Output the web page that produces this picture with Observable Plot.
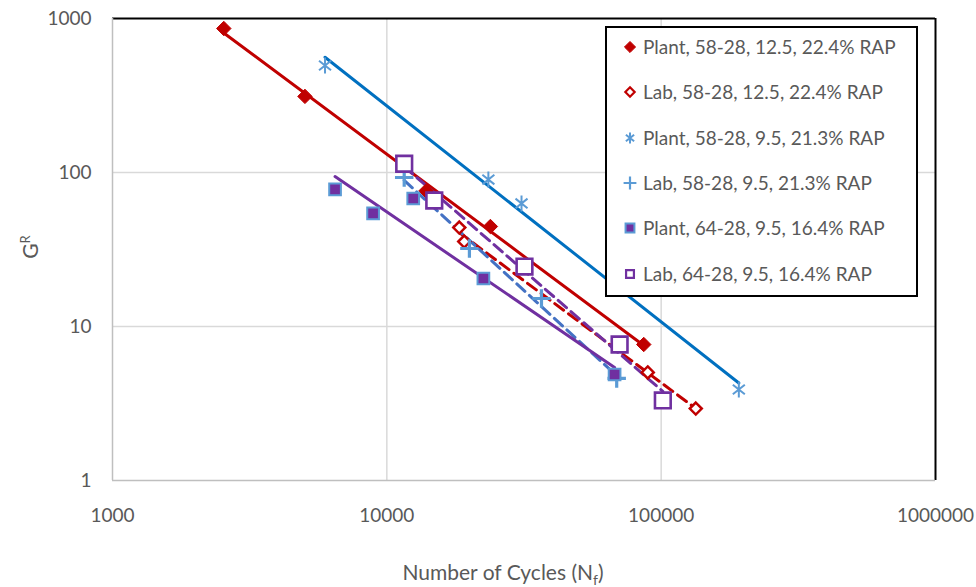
<!DOCTYPE html>
<html><head><meta charset="utf-8">
<script src="https://cdn.jsdelivr.net/npm/d3@7"></script>
<script src="https://cdn.jsdelivr.net/npm/@observablehq/plot@0.6"></script>
<style>
body{margin:0;background:#fff;}
#wrap{position:relative;width:976px;height:587px;overflow:hidden;}
#legend{position:absolute;left:605px;top:26px;width:309px;height:267px;border:2px solid #000;background:#fff;font-family:Lato, "Open Sans", sans-serif;font-size:19px;color:#595959;}
.row{position:absolute;left:0;height:22px;white-space:nowrap;}
.row svg{position:absolute;left:16px;top:4px;}
.row span{position:absolute;left:36px;top:0;line-height:22px;}
</style></head>
<body>
<div id="wrap"><div id="chart"></div><div id="legend"></div></div>
<script>
// ---- data ----
const seriesNames = [
  "Plant, 58-28, 12.5, 22.4% RAP",
  "Lab, 58-28, 12.5, 22.4% RAP",
  "Plant, 58-28, 9.5, 21.3% RAP",
  "Lab, 58-28, 9.5, 21.3% RAP",
  "Plant, 64-28, 9.5, 16.4% RAP",
  "Lab, 64-28, 9.5, 16.4% RAP"
];
const plant58_125_N = [2545, 5029, 13900, 23850, 86400];
const plant58_125_G = [861, 312, 76, 44.6, 7.64];
const lab58_125_N = [18370, 19150, 89350, 133700];
const lab58_125_G = [43.9, 35.6, 5.03, 2.93];
const plant58_95_N = [5952, 23450, 30970, 191900];
const plant58_95_G = [495, 90, 63, 3.9];
const lab58_95_N = [11570, 20000, 36620, 68850];
const lab58_95_G = [92.8, 32.1, 15.2, 4.6];
const plant64_95_N = [6475, 8910, 12480, 22490, 67640];
const plant64_95_G = [77.6, 54.2, 67.8, 20.5, 4.88];
const lab64_95_N = [11570, 14890, 31750, 70560, 101400];
const lab64_95_G = [114, 65.8, 24.5, 7.64, 3.31];
const xTicks = [1000, 10000, 100000, 1000000];
const yTicks = [1, 10, 100, 1000];

// Excel-like asterisk: vertical bar plus an X
const excelAsterisk = {
  draw(context, size) {
    const r = Math.sqrt(size / Math.PI);
    const d = r * 0.75;
    context.moveTo(0, -r); context.lineTo(0, r);
    context.moveTo(-d, -d * 0.8); context.lineTo(d, d * 0.8);
    context.moveTo(-d, d * 0.8); context.lineTo(d, -d * 0.8);
  }
};

// ---- styles per series ----
const styles = [
  {N: plant58_125_N, G: plant58_125_G, symbol: d3.symbolDiamond2, r: 6.5, fill: "#C00000", stroke: "#C00000", sw: 1, line: "#C00000", dash: null},
  {N: lab58_125_N, G: lab58_125_G, symbol: d3.symbolDiamond2, r: 5.4, fill: "#fff", stroke: "#C00000", sw: 2.5, line: "#C00000", dash: "11,6"},
  {N: plant58_95_N, G: plant58_95_G, symbol: excelAsterisk, r: 8, fill: "none", stroke: "#5B9BD5", sw: 2, line: "#0070C0", dash: null},
  {N: lab58_95_N, G: lab58_95_G, symbol: d3.symbolPlus, r: 6, fill: "none", stroke: "#5B9BD5", sw: 3.2, line: "#4472C4", dash: "11,6"},
  {N: plant64_95_N, G: plant64_95_G, symbol: d3.symbolSquare, r: 6.6, fill: "#7030A0", stroke: "#5B9BD5", sw: 2, line: "#7030A0", dash: null},
  {N: lab64_95_N, G: lab64_95_G, symbol: d3.symbolSquare2, r: 10, fill: "#fff", stroke: "#7030A0", sw: 2.6, line: "#7030A0", dash: "11,6"}
];

function rows(s, name) { return s.N.map((n, i) => ({N: n, G: s.G[i], series: name})); }
// power-law trendline (least squares in log space), spanning the data range
function trend(s, name) {
  const lx = s.N.map(Math.log10), ly = s.G.map(Math.log10);
  const mx = d3.mean(lx), my = d3.mean(ly);
  const b = d3.sum(lx, (v, i) => (v - mx) * (ly[i] - my)) / d3.sum(lx, v => (v - mx) ** 2);
  const a = my - b * mx;
  return d3.extent(s.N).map(n => ({N: n, G: 10 ** (a + b * Math.log10(n)), series: name}));
}

const font = "Lato, 'Open Sans', sans-serif";
const marks = [
  Plot.gridX(xTicks.slice(1, -1), {stroke: "#d9d9d9", strokeOpacity: 1, strokeWidth: 1.5}),
  Plot.gridY(yTicks.slice(1, -1), {stroke: "#d9d9d9", strokeOpacity: 1, strokeWidth: 1.5}),
  Plot.ruleY([yTicks[yTicks.length - 1]], {stroke: "#000", strokeWidth: 2}),
  Plot.ruleX([xTicks[xTicks.length - 1]], {stroke: "#000", strokeWidth: 2}),
  Plot.ruleX([xTicks[0]], {stroke: "#bfbfbf", strokeWidth: 1.5}),
  Plot.ruleY([yTicks[0]], {stroke: "#bfbfbf", strokeWidth: 1.5})
];
styles.forEach((s, i) => {
  marks.push(Plot.line(trend(s, seriesNames[i]), {x: "N", y: "G", stroke: s.line, strokeWidth: 3, strokeDasharray: s.dash || undefined}));
});
styles.forEach((s, i) => {
  marks.push(Plot.dot(rows(s, seriesNames[i]), {x: "N", y: "G", symbol: () => s.symbol, r: s.r, fill: s.fill, stroke: s.stroke, strokeWidth: s.sw}));
});
marks.push(Plot.axisX(xTicks, {tickSize: 0, tickPadding: 28, fontSize: 19, fill: "#595959", tickFormat: d => String(d), label: null}));
marks.push(Plot.axisY(yTicks, {tickSize: 0, tickPadding: 21, fontSize: 19, fill: "#595959", tickFormat: d => String(d), label: null}));

const svg = Plot.plot({
  width: 976, height: 587,
  marginLeft: 112, marginRight: 41, marginTop: 18, marginBottom: 107,
  style: {fontFamily: font, background: "#fff", overflow: "visible"},
  x: {type: "log", domain: [1000, 1000000]},
  y: {type: "log", domain: [1, 1000]},
  marks
});
document.getElementById("chart").appendChild(svg);

// axis titles with sub/superscripts
const s = d3.select(svg);
const xt = s.append("text").attr("x", 503).attr("y", 580).attr("text-anchor", "middle")
  .attr("font-family", font).attr("font-size", 21).attr("fill", "#595959");
xt.append("tspan").text("Number of Cycles (N");
xt.append("tspan").attr("font-size", 14).attr("dy", 5).text("f");
xt.append("tspan").attr("dy", -5).text(")");
const yt = s.append("text").attr("transform", "translate(38,247) rotate(-90)").attr("text-anchor", "middle")
  .attr("font-family", font).attr("font-size", 21).attr("fill", "#595959");
yt.append("tspan").text("G");
yt.append("tspan").attr("font-size", 13).attr("dy", -8).text("R");

// legend
const legR = [5, 4.2, 5.5, 4.2, 5, 5];
styles.forEach((st, i) => {
  const row = legend_row(i);
  const sv = row.append("svg").attr("width", 14).attr("height", 14);
  sv.append("path").attr("transform", "translate(7,7)")
    .attr("d", d3.symbol(st.symbol, Math.PI * legR[i] ** 2)())
    .attr("fill", st.fill).attr("stroke", st.stroke).attr("stroke-width", Math.min(st.sw, 2.2));
  row.append("span").text(seriesNames[i]);
});
function legend_row(i) {
  return d3.select("#legend").append("div").attr("class", "row").style("top", (8 + 45.3 * i) + "px");
}
</script>
</body></html>
